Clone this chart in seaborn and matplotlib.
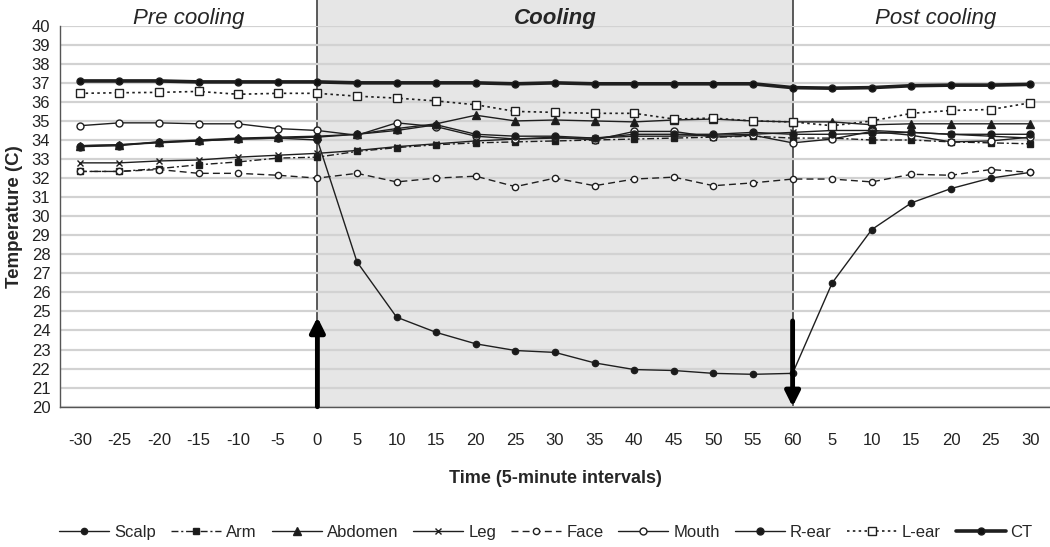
import matplotlib
matplotlib.use("Agg")
import matplotlib.pyplot as plt
import seaborn as sns
import numpy as np
import pandas as pd
from matplotlib.patches import Rectangle
from matplotlib.lines import Line2D

# ---------------- data ----------------
time_labels = ['-30', '-25', '-20', '-15', '-10', '-5', '0', '5', '10', '15', '20', '25',
               '30', '35', '40', '45', '50', '55', '60', '5', '10', '15', '20', '25', '30']

scalp = [33.7, 33.75, 33.85, 33.95, 34.05, 34.1, 34.0,
         27.6, 24.7, 23.9, 23.3, 22.95, 22.85, 22.3, 21.95, 21.9, 21.75, 21.7, 21.75,
         26.5, 29.3, 30.7, 31.45, 32.0, 32.3]
arm = [32.35, 32.35, 32.5, 32.7, 32.85, 33.05, 33.1,
       33.4, 33.6, 33.75, 33.85, 33.9, 33.95, 34.0, 34.05, 34.1, 34.15, 34.2, 34.1,
       34.1, 34.0, 34.0, 33.9, 33.85, 33.8]
abdomen = [33.7, 33.75, 33.9, 34.0, 34.1, 34.15, 34.2,
           34.3, 34.6, 34.85, 35.3, 35.0, 35.05, 35.0, 34.95, 35.05, 35.1, 35.0, 34.95,
           34.95, 34.8, 34.85, 34.85, 34.85, 34.85]
leg = [32.8, 32.8, 32.9, 32.95, 33.1, 33.2, 33.3,
       33.45, 33.65, 33.8, 33.95, 34.05, 34.1, 34.1, 34.2, 34.2, 34.25, 34.3, 34.4,
       34.5, 34.5, 34.4, 34.3, 34.2, 34.1]
face = [32.35, 32.35, 32.45, 32.25, 32.25, 32.15, 32.0,
        32.25, 31.8, 32.0, 32.1, 31.55, 32.0, 31.6, 31.95, 32.05, 31.6, 31.75, 31.95,
        31.95, 31.8, 32.2, 32.15, 32.45, 32.3]
mouth = [34.75, 34.9, 34.9, 34.85, 34.85, 34.6, 34.5,
         34.25, 34.9, 34.7, 34.2, 34.05, 34.15, 34.0, 34.45, 34.45, 34.15, 34.25, 33.85,
         34.05, 34.45, 34.25, 33.9, 33.95, 34.15]
r_ear = [33.65, 33.7, 33.9, 33.95, 34.05, 34.1, 34.15,
         34.3, 34.5, 34.8, 34.3, 34.2, 34.2, 34.1, 34.3, 34.3, 34.3, 34.4, 34.3,
         34.3, 34.35, 34.4, 34.3, 34.3, 34.3]
l_ear = [36.45, 36.48, 36.5, 36.55, 36.4, 36.45, 36.45,
         36.3, 36.2, 36.05, 35.85, 35.5, 35.45, 35.4, 35.4, 35.1, 35.15, 35.0, 34.95,
         34.75, 35.0, 35.4, 35.55, 35.6, 35.95]
ct = [37.1, 37.1, 37.1, 37.05, 37.05, 37.05, 37.05,
      37.0, 37.0, 37.0, 37.0, 36.95, 37.0, 36.95, 36.95, 36.95, 36.95, 36.95, 36.75,
      36.72, 36.75, 36.85, 36.88, 36.88, 36.92]

series_names = ['Scalp', 'Arm', 'Abdomen', 'Leg', 'Face', 'Mouth', 'R-ear', 'L-ear', 'CT']
series_values = [scalp, arm, abdomen, leg, face, mouth, r_ear, l_ear, ct]

cool_start_label_idx = 6   # "0"
cool_end_label_idx = 18    # "60"

# ---------------- style ----------------
sns.set_style('white')
plt.rcParams['font.family'] = ['Liberation Sans', 'DejaVu Sans']
narrow = ['Liberation Sans Narrow', 'Liberation Sans', 'DejaVu Sans']

styles = {
    'Scalp':   dict(marker='o', ls='-',  lw=1.0, mfc='#1a1a1a', ms=4.5),
    'Arm':     dict(marker='s', ls=(0, (5, 2, 1.5, 2)), lw=1.0, mfc='#1a1a1a', ms=5),
    'Abdomen': dict(marker='^', ls='-',  lw=1.0, mfc='#1a1a1a', ms=5.5),
    'Leg':     dict(marker='x', ls='-',  lw=1.0, mfc='#1a1a1a', ms=5),
    'Face':    dict(marker='o', ls=(0, (5, 3)), lw=1.0, mfc='white', ms=4.5),
    'Mouth':   dict(marker='o', ls='-',  lw=1.0, mfc='white', ms=5),
    'R-ear':   dict(marker='o', ls='-',  lw=1.0, mfc='#1a1a1a', ms=5),
    'L-ear':   dict(marker='s', ls=(0, (1.5, 2)), lw=1.2, mfc='white', ms=5.5),
    'CT':      dict(marker='o', ls='-',  lw=2.6, mfc='#111111', ms=5),
}

fig = plt.figure(figsize=(10.5, 5.47), dpi=100)
ax = fig.add_axes([60 / 1050, (547 - 406.7) / 547, 990 / 1050, 381 / 547])

x = np.arange(len(time_labels))

# cooling box (extends above plot to the figure top)
rect = Rectangle((cool_start_label_idx, 20), cool_end_label_idx - cool_start_label_idx, 21.4,
                 facecolor='#e6e6e6', edgecolor='#4d4d4d', lw=1.3, clip_on=False, zorder=0.2)
ax.add_patch(rect)

color = '#1f1f1f'
handles = []
for name, vals in zip(series_names, series_values):
    st = styles[name]
    df = pd.DataFrame({'t': x, 'v': vals})
    sns.lineplot(data=df, x='t', y='v', ax=ax, color=color, linestyle=st['ls'], lw=st['lw'],
                 marker=st['marker'], markersize=st['ms'], markerfacecolor=st['mfc'],
                 markeredgecolor=color, markeredgewidth=1.0, zorder=3, legend=False)
    handles.append(Line2D([0], [0], color=color, linestyle=st['ls'], lw=st['lw'],
                          marker=st['marker'], markersize=st['ms'],
                          markerfacecolor=st['mfc'], markeredgecolor=color, label=name))

# arrows
ax.annotate('', xy=(cool_start_label_idx, 24.7), xytext=(cool_start_label_idx, 20.0),
            arrowprops=dict(arrowstyle='-|>', lw=3.5, color='black', mutation_scale=22,
                            shrinkA=0, shrinkB=0), zorder=5, annotation_clip=False)
ax.annotate('', xy=(cool_end_label_idx, 20.0), xytext=(cool_end_label_idx, 24.5),
            arrowprops=dict(arrowstyle='-|>', lw=3.5, color='black', mutation_scale=22,
                            shrinkA=0, shrinkB=0), zorder=5, annotation_clip=False)

# axes
ax.set_xlim(-0.5, len(time_labels) - 0.5)
ax.set_ylim(20, 40)
ax.set_yticks(np.arange(20, 41, 1))
ax.set_yticklabels([str(v) for v in range(20, 41)], family=narrow, fontsize=12, color='#222')
ax.set_xticks(x)
ax.set_xticklabels(time_labels, family=narrow, fontsize=12, color='#222')
ax.set_xticks(np.arange(-0.5, len(time_labels), 1), minor=True)
ax.tick_params(axis='x', which='major', length=0, pad=19)
ax.tick_params(axis='x', which='minor', length=5, width=1, color='#555', direction='out')
ax.tick_params(axis='y', which='major', length=4, width=1, color='#555', direction='out', pad=3)
ax.set_axisbelow(True)
ax.yaxis.grid(True, color='#d2d2d2', lw=1.6, zorder=0.5)
ax.xaxis.grid(False)
for s in ['top', 'right']:
    ax.spines[s].set_visible(False)
ax.spines['left'].set_color('#555')
ax.spines['bottom'].set_color('#555')
ax.spines['left'].set_linewidth(1.0)
ax.spines['bottom'].set_linewidth(1.0)
ax.set_facecolor('none')

ax.set_xlabel('Time (5-minute intervals)', family=narrow, fontsize=13, fontweight='bold',
              labelpad=16)
ax.set_ylabel('Temperature (C)', fontsize=13.5, fontweight='bold', labelpad=6)

# period titles
ax.text(2.75, 40.4, 'Pre cooling', ha='center', va='center', fontsize=16, style='italic',
        clip_on=False)
ax.text(12.0, 40.4, 'Cooling', ha='center', va='center', fontsize=16, style='italic',
        fontweight='bold', clip_on=False)
ax.text(21.6, 40.4, 'Post cooling', ha='center', va='center', fontsize=16, style='italic',
        clip_on=False)

fig.legend(handles=handles, loc='center', bbox_to_anchor=(0.52, 0.026), ncol=9, frameon=False,
           prop={'family': narrow, 'size': 12}, handlelength=3.0, columnspacing=0.9,
           handletextpad=0.3)

fig.savefig('out.png', dpi=100)
